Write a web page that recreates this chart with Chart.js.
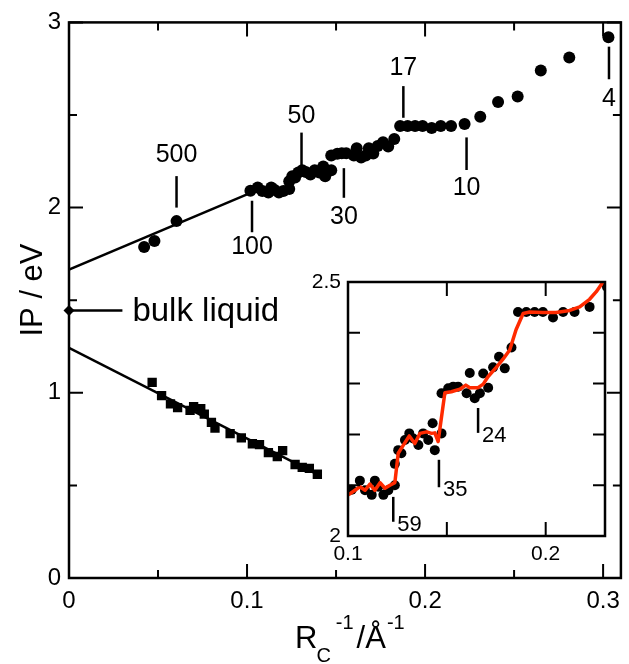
<!DOCTYPE html>
<html>
<head>
<meta charset="utf-8">
<script src="https://cdn.jsdelivr.net/npm/chart.js@4.4.0/dist/chart.umd.min.js"></script>
<style>
  body { margin: 0; background: #fff; }
  #wrap { position: relative; width: 629px; height: 664px; }
  #mainChart { position: absolute; left: 0; top: 0; }
  #insetChart { position: absolute; left: 290px; top: 262px; }
</style>
</head>
<body>
<div id="wrap">
  <canvas id="mainChart" width="629" height="664"></canvas>
  <canvas id="insetChart" width="330" height="310"></canvas>
</div>
<script>
const FONT = "'Liberation Sans', Arial, Helvetica, sans-serif";

// IP of the cluster series (circles), x = 1/Rc in 1/Angstrom
const upperX = [0.0422, 0.048, 0.0604,
    0.1019, 0.106, 0.1086, 0.112, 0.1136, 0.1153, 0.1179, 0.1204, 0.1237, 0.1237,
    0.1254, 0.127, 0.1288, 0.131, 0.133, 0.1356, 0.138, 0.1406, 0.1428, 0.1439,
    0.1473, 0.1473, 0.1507, 0.1532, 0.1557, 0.16, 0.1616, 0.1641, 0.1667, 0.1684,
    0.1709, 0.1734, 0.1764, 0.1793, 0.1827, 0.186, 0.1902, 0.1944, 0.1986, 0.2037,
    0.2088, 0.2146, 0.2222,
    0.231, 0.241, 0.252, 0.265, 0.281, 0.303];
const upperY = [1.787, 1.82, 1.927,
    2.091, 2.109, 2.09, 2.081, 2.109, 2.097, 2.081, 2.09, 2.10, 2.142,
    2.169, 2.163, 2.189, 2.202, 2.192, 2.179, 2.202, 2.189, 2.222, 2.169,
    2.202, 2.281, 2.291, 2.294, 2.294, 2.281, 2.321, 2.271, 2.281, 2.320,
    2.292, 2.332, 2.353, 2.330, 2.371, 2.441, 2.441, 2.441, 2.441, 2.43,
    2.441, 2.441, 2.451,
    2.49, 2.57, 2.60, 2.74, 2.81, 2.92];

// second series (squares)
const lowerX = [0.0467, 0.052, 0.057, 0.061, 0.068, 0.070, 0.074, 0.076, 0.080, 0.082,
    0.0905, 0.0968, 0.103, 0.107, 0.112, 0.117, 0.120, 0.127, 0.131, 0.135, 0.1395];
const lowerY = [1.056, 0.985, 0.94, 0.92, 0.905, 0.925, 0.915, 0.885, 0.84, 0.81,
    0.78, 0.757, 0.725, 0.72, 0.677, 0.656, 0.688, 0.613, 0.597, 0.592, 0.56];

// linear extrapolations to 1/Rc = 0
const upperFitX = [0, 0.102];
const upperFitY = [1.665, 2.08];
const lowerFitX = [0, 0.1395];
const lowerFitY = [1.243, 0.56];

// bulk liquid reference value
const bulkIP = 1.445;
const bulkArrowX = [0, 0.03];

// smoothed curve shown in the inset
const insetFitX = [0.1002, 0.1035, 0.106, 0.1086, 0.1111, 0.1136, 0.1162, 0.1187, 0.1212,
    0.1237, 0.1254, 0.128, 0.131, 0.1338, 0.1364, 0.1398, 0.1423, 0.1439, 0.1456, 0.149,
    0.1523, 0.1566, 0.1596, 0.1616, 0.1658, 0.1684, 0.1709, 0.175, 0.1784, 0.1818, 0.185,
    0.1886, 0.1919, 0.1986, 0.2053, 0.2121, 0.2172, 0.2222, 0.2256, 0.229];
const insetFitY = [2.081, 2.09, 2.097, 2.09, 2.102, 2.09, 2.105, 2.094, 2.10,
    2.105, 2.163, 2.179, 2.197, 2.182, 2.202, 2.205, 2.202, 2.203, 2.186, 2.282,
    2.284, 2.289, 2.297, 2.292, 2.292, 2.299, 2.314, 2.332, 2.348, 2.366, 2.406,
    2.438, 2.441, 2.44, 2.44, 2.444, 2.451, 2.466, 2.481, 2.50];

// cluster size markers: x, marker line from y0 to y1, label at labelY
const annLabels = ['500', '100', '50', '30', '17', '10', '4'];
const annX      = [0.0604, 0.1028, 0.1306, 0.1544, 0.1878, 0.2233, 0.3033];
const annY0     = [2.00, 2.037, 2.405, 2.213, 2.656, 2.379, 2.869];
const annY1     = [2.17, 1.867, 2.229, 2.053, 2.485, 2.203, 2.693];
const annLabelY = [2.283, 1.787, 2.496, 1.947, 2.752, 2.107, 2.587];

const insetAnnLabels = ['59', '35', '24'];
const insetAnnX      = [0.1229, 0.146, 0.1658];
const insetAnnY0     = [2.077, 2.150, 2.252];
const insetAnnY1     = [2.028, 2.096, 2.203];

// axis ticks
const mainXTicks = [0, 0.05, 0.1, 0.15, 0.2, 0.25, 0.3];
const mainXTickLabels = ['0', '', '0.1', '', '0.2', '', '0.3'];
const mainYTicks = [0, 0.5, 1, 1.5, 2, 2.5, 3];
const mainYTickLabels = ['0', '', '1', '', '2', '', '3'];
const insetXTicks = [0.1, 0.15, 0.2];
const insetXTickLabels = ['0.1', '', '0.2'];
const insetYTicks = [2, 2.1, 2.2, 2.3, 2.4, 2.5];
const insetYTickLabels = ['2', '', '', '', '', '2.5'];

function pts(xs, ys) {
    return xs.map((x, i) => ({ x: x, y: ys[i] }));
}

function fixedTicks(values) {
    return function(scale) {
        scale.ticks = values.map(v => ({ value: v }));
    };
}

// frame around the plot area with inward ticks on all four sides
function frameTicksPlugin(xLabels, yLabels, majorLen, minorLen, xLen) {
    return {
        id: 'frameTicks',
        afterDatasetsDraw(chart) {
            const ctx = chart.ctx;
            const a = chart.chartArea;
            const xs = chart.scales.x, ys = chart.scales.y;
            ctx.save();
            ctx.strokeStyle = '#000';
            ctx.lineWidth = 2.5;
            ctx.strokeRect(a.left, a.top, a.right - a.left, a.bottom - a.top);
            ctx.lineWidth = 2;
            ctx.beginPath();
            xs.ticks.forEach((t, i) => {
                const px = xs.getPixelForValue(t.value);
                const len = xLen || (xLabels[i] ? majorLen : minorLen);
                ctx.moveTo(px, a.bottom); ctx.lineTo(px, a.bottom - len);
                ctx.moveTo(px, a.top); ctx.lineTo(px, a.top + len);
            });
            ys.ticks.forEach((t, i) => {
                const py = ys.getPixelForValue(t.value);
                const len = yLabels[i] ? majorLen : minorLen;
                ctx.moveTo(a.left, py); ctx.lineTo(a.left + len, py);
                ctx.moveTo(a.right, py); ctx.lineTo(a.right - len, py);
            });
            ctx.stroke();
            ctx.restore();
        }
    };
}

// vertical marker lines with cluster size labels, bulk arrow, axis titles
const annotationPlugin = {
    id: 'sizeLabels',
    afterDatasetsDraw(chart) {
        const ctx = chart.ctx;
        const xs = chart.scales.x, ys = chart.scales.y;
        ctx.save();
        ctx.strokeStyle = '#000';
        ctx.fillStyle = '#000';
        ctx.lineWidth = 2.5;
        ctx.font = '25px ' + FONT;
        ctx.textAlign = 'center';
        ctx.textBaseline = 'middle';
        annLabels.forEach((lab, i) => {
            const px = xs.getPixelForValue(annX[i]);
            ctx.beginPath();
            ctx.moveTo(px, ys.getPixelForValue(annY0[i]));
            ctx.lineTo(px, ys.getPixelForValue(annY1[i]));
            ctx.stroke();
            ctx.fillText(lab, px, ys.getPixelForValue(annLabelY[i]));
        });

        // bulk liquid arrow
        const by = ys.getPixelForValue(bulkIP);
        const x0 = xs.getPixelForValue(bulkArrowX[0]);
        const x1 = xs.getPixelForValue(bulkArrowX[1]);
        ctx.lineWidth = 2.5;
        ctx.beginPath();
        ctx.moveTo(x0, by); ctx.lineTo(x1, by);
        ctx.stroke();
        ctx.beginPath();
        ctx.moveTo(x0 - 5.5, by); ctx.lineTo(x0, by - 5.5);
        ctx.lineTo(x0 + 5.5, by); ctx.lineTo(x0, by + 5.5);
        ctx.closePath();
        ctx.fill();
        ctx.font = '33px ' + FONT;
        ctx.textAlign = 'left';
        ctx.textBaseline = 'alphabetic';
        ctx.fillText('bulk liquid', x1 + 10, by + 11);

        // axis titles
        ctx.font = '31px ' + FONT;
        ctx.save();
        ctx.translate(42, 290);
        ctx.rotate(-Math.PI / 2);
        ctx.textAlign = 'center';
        ctx.fillText('IP / eV', 0, 0);
        ctx.restore();

        const base = 648;
        let x = 295;
        ctx.textAlign = 'left';
        ctx.font = '31px ' + FONT;
        ctx.fillText('R', x, base);
        x += ctx.measureText('R').width - 1;
        ctx.font = '20px ' + FONT;
        ctx.fillText('C', x, base + 14);
        x += ctx.measureText('C').width + 5;
        ctx.fillText('-1', x, base - 19);
        x += ctx.measureText('-1').width + 3;
        ctx.font = '31px ' + FONT;
        ctx.fillText('/Å', x, base);
        x += ctx.measureText('/Å').width + 1;
        ctx.font = '20px ' + FONT;
        ctx.fillText('-1', x, base - 19);
        ctx.restore();
    }
};

const insetAnnotationPlugin = {
    id: 'insetSizeLabels',
    afterDatasetsDraw(chart) {
        const ctx = chart.ctx;
        const xs = chart.scales.x, ys = chart.scales.y;
        ctx.save();
        ctx.strokeStyle = '#000';
        ctx.fillStyle = '#000';
        ctx.lineWidth = 2.5;
        ctx.font = '22px ' + FONT;
        ctx.textAlign = 'left';
        ctx.textBaseline = 'middle';
        insetAnnLabels.forEach((lab, i) => {
            const px = xs.getPixelForValue(insetAnnX[i]);
            const y1 = ys.getPixelForValue(insetAnnY1[i]);
            ctx.beginPath();
            ctx.moveTo(px, ys.getPixelForValue(insetAnnY0[i]));
            ctx.lineTo(px, y1);
            ctx.stroke();
            ctx.fillText(lab, px + 4, y1 + 3);
        });
        ctx.restore();
    }
};

const whiteArea = {
    id: 'whiteArea',
    beforeDraw(chart) {
        const a = chart.chartArea;
        chart.ctx.save();
        chart.ctx.fillStyle = '#fff';
        chart.ctx.fillRect(a.left, a.top, a.right - a.left, a.bottom - a.top);
        chart.ctx.restore();
    }
};

function labelFrom(labels) {
    return function(value, index) {
        return labels[index];
    };
}

function initMainChart() {
    const ctx = document.getElementById('mainChart').getContext('2d');
    new Chart(ctx, {
        type: 'scatter',
        data: {
            datasets: [{
                label: 'upper fit',
                type: 'line',
                data: pts(upperFitX, upperFitY),
                borderColor: '#000',
                borderWidth: 2.5,
                pointRadius: 0,
                fill: false
            }, {
                label: 'lower fit',
                type: 'line',
                data: pts(lowerFitX, lowerFitY),
                borderColor: '#000',
                borderWidth: 2.5,
                pointRadius: 0,
                fill: false
            }, {
                label: 'clusters',
                data: pts(upperX, upperY),
                backgroundColor: '#000',
                borderColor: '#000',
                borderWidth: 0,
                pointRadius: 6
            }, {
                label: 'squares',
                data: pts(lowerX, lowerY),
                pointStyle: 'rect',
                backgroundColor: '#000',
                borderColor: '#000',
                borderWidth: 0,
                pointRadius: 6.6
            }]
        },
        options: {
            responsive: false,
            animation: false,
            layout: { padding: { left: 0, top: 16, right: 2, bottom: 0 } },
            plugins: { legend: { display: false }, tooltip: { enabled: false } },
            scales: {
                x: {
                    type: 'linear',
                    min: 0,
                    max: 0.31,
                    afterBuildTicks: fixedTicks(mainXTicks),
                    afterFit: s => { s.height = 86; },
                    grid: { display: false, drawTicks: false },
                    border: { display: false },
                    ticks: {
                        callback: labelFrom(mainXTickLabels),
                        autoSkip: false,
                        maxRotation: 0,
                        padding: 9,
                        color: '#000',
                        font: { family: FONT, size: 24 }
                    }
                },
                y: {
                    type: 'linear',
                    min: 0,
                    max: 3,
                    afterBuildTicks: fixedTicks(mainYTicks),
                    afterFit: s => { s.width = 69; },
                    grid: { display: false, drawTicks: false },
                    border: { display: false },
                    ticks: {
                        callback: labelFrom(mainYTickLabels),
                        autoSkip: false,
                        padding: 8,
                        color: '#000',
                        font: { family: FONT, size: 24 }
                    }
                }
            }
        },
        plugins: [frameTicksPlugin(mainXTickLabels, mainYTickLabels, 14, 8), annotationPlugin]
    });
}

function initInsetChart() {
    const ctx = document.getElementById('insetChart').getContext('2d');
    new Chart(ctx, {
        type: 'scatter',
        data: {
            datasets: [{
                label: 'smoothed',
                type: 'line',
                data: pts(insetFitX, insetFitY),
                borderColor: '#ff2a00',
                borderWidth: 3.5,
                borderJoinStyle: 'round',
                pointRadius: 0,
                tension: 0,
                fill: false
            }, {
                label: 'clusters',
                data: pts(upperX, upperY),
                backgroundColor: '#000',
                borderColor: '#000',
                borderWidth: 0,
                pointRadius: 5
            }]
        },
        options: {
            responsive: false,
            animation: false,
            layout: { padding: { left: 0, top: 20, right: 15, bottom: 0 } },
            plugins: { legend: { display: false }, tooltip: { enabled: false } },
            scales: {
                x: {
                    type: 'linear',
                    min: 0.1,
                    max: 0.23,
                    afterBuildTicks: fixedTicks(insetXTicks),
                    afterFit: s => { s.height = 36; },
                    grid: { display: false, drawTicks: false },
                    border: { display: false },
                    ticks: {
                        callback: labelFrom(insetXTickLabels),
                        autoSkip: false,
                        maxRotation: 0,
                        padding: 6,
                        color: '#000',
                        font: { family: FONT, size: 21 }
                    }
                },
                y: {
                    type: 'linear',
                    min: 2,
                    max: 2.5,
                    afterBuildTicks: fixedTicks(insetYTicks),
                    afterFit: s => { s.width = 58; },
                    grid: { display: false, drawTicks: false },
                    border: { display: false },
                    ticks: {
                        callback: labelFrom(insetYTickLabels),
                        autoSkip: false,
                        padding: 7,
                        color: '#000',
                        font: { family: FONT, size: 21 }
                    }
                }
            }
        },
        plugins: [whiteArea, frameTicksPlugin(insetXTickLabels, insetYTickLabels, 12, 12, 14), insetAnnotationPlugin]
    });
}

document.addEventListener('DOMContentLoaded', function() {
    if (typeof Chart === 'undefined') {
        console.error('Chart.js is not loaded');
        return;
    }
    initMainChart();
    initInsetChart();
});
</script>
</body>
</html>
